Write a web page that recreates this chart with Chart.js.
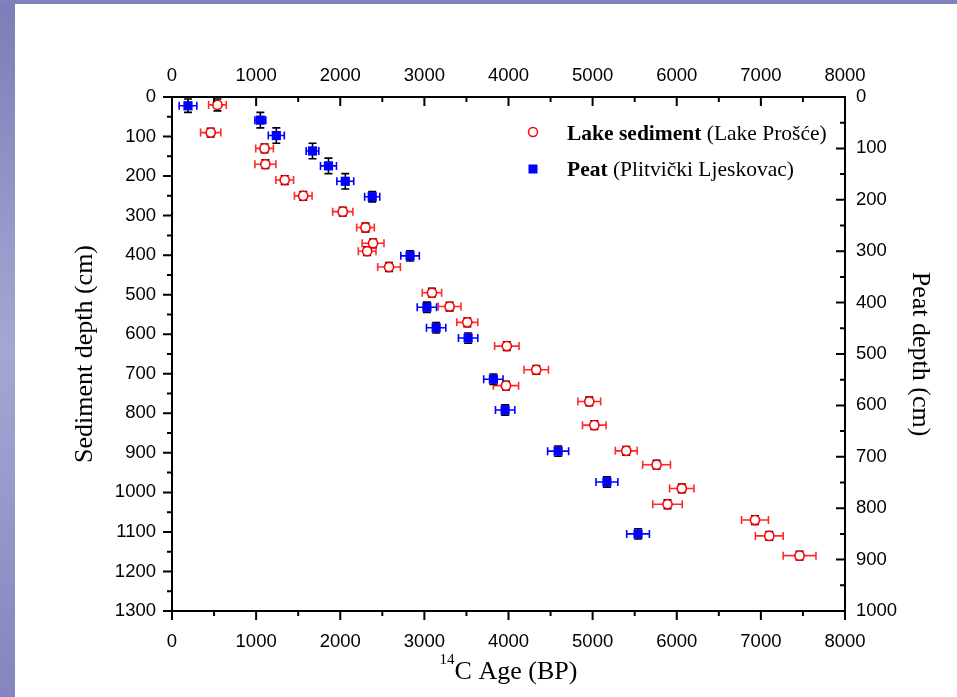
<!DOCTYPE html>
<html>
<head>
<meta charset="utf-8">
<script src="https://cdn.jsdelivr.net/npm/chart.js@4.4.1/dist/chart.umd.min.js"></script>
<style>
  html, body { margin: 0; padding: 0; }
  body {
    width: 957px; height: 697px; position: relative; overflow: hidden;
    background: linear-gradient(to bottom, #7d7db7 0%, #a6a6d4 50%, #8585bf 100%);
  }
  #topband { position: absolute; left: 0; top: 0; width: 957px; height: 4px; background: #8080bb; }
  #panel { position: absolute; left: 15px; top: 4px; right: 0; bottom: 0; background: #fff; }
  #chart { position: absolute; left: 0; top: 0; }
</style>
</head>
<body>
<div id="topband"></div>
<div id="panel"></div>
<canvas id="chart" width="957" height="697"></canvas>
<script>
// lake sediment (Lake Prošće) - left axis
const lakeAge = [540, 460, 1100, 1110, 1340, 1560, 2030, 2300, 2390, 2320, 2580, 3090, 3300, 3510, 3980, 4330, 3970, 4960, 5020, 5400, 5760, 6060, 5890, 6930, 7100, 7460];
const lakeDepth = [20, 90, 130, 170, 210, 250, 290, 330, 370, 390, 430, 495, 530, 570, 630, 690, 730, 770, 830, 895, 930, 990, 1030, 1070, 1110, 1160];
const lakeAgeErr = [105, 120, 105, 125, 105, 105, 120, 105, 130, 105, 135, 115, 135, 125, 145, 145, 150, 135, 140, 130, 165, 145, 175, 160, 165, 195];
const lakeDepthErr = [15, 11, 11, 11, 11, 11, 11, 11, 11, 11, 11, 11, 11, 11, 11, 11, 11, 11, 11, 11, 11, 11, 11, 11, 11, 11];

// peat (Plitvički Ljeskovac) - right axis
const peatAge = [190, 1050, 1240, 1670, 1860, 2060, 2380, 2830, 3030, 3140, 3520, 3820, 3960, 4590, 5170, 5540];
const peatDepth = [17, 45, 75, 105, 134, 164, 194, 309, 409, 449, 469, 549, 609, 689, 749, 850];
const peatAgeErr = [105, 65, 95, 75, 95, 100, 90, 110, 115, 115, 115, 115, 115, 125, 130, 135];
const peatDepthErr = [13, 15, 15, 15, 15, 15, 10, 10, 10, 10, 10, 10, 10, 10, 10, 10];

const ageTicks = { min: 0, max: 8000, step: 1000 };
const sedTicks = { min: 0, max: 1300, step: 100 };
const peatTicks = { min: 0, max: 1000, step: 100 };

const labelFont = { family: "'Liberation Sans', Arial, sans-serif", size: 18.5 };
const titleFamily = "'Liberation Serif', 'Times New Roman', serif";

function toPoints(xs, ys) {
  return xs.map((x, i) => ({ x: x, y: ys[i] }));
}

// error bars go under the markers
const errorBars = {
  id: 'errorBars',
  beforeDatasetsDraw(chart) {
    const ctx = chart.ctx;
    ctx.save();
    chart.data.datasets.forEach((ds) => {
      const xs = chart.scales[ds.xAxisID];
      const ys = chart.scales[ds.yAxisID];
      ds.data.forEach((p, i) => {
        const px = xs.getPixelForValue(p.x);
        const py = ys.getPixelForValue(p.y);
        const x1 = xs.getPixelForValue(p.x - ds.errX[i]);
        const x2 = xs.getPixelForValue(p.x + ds.errX[i]);
        const y1 = ys.getPixelForValue(p.y - ds.errY[i]);
        const y2 = ys.getPixelForValue(p.y + ds.errY[i]);
        ctx.lineWidth = 1.6;
        ctx.strokeStyle = ds.errColor;
        ctx.beginPath();
        ctx.moveTo(x1, py); ctx.lineTo(x2, py);
        ctx.moveTo(x1, py - 4); ctx.lineTo(x1, py + 4);
        ctx.moveTo(x2, py - 4); ctx.lineTo(x2, py + 4);
        ctx.stroke();
        ctx.strokeStyle = '#000';
        ctx.beginPath();
        ctx.moveTo(px, y1); ctx.lineTo(px, y2);
        ctx.moveTo(px - 4, y1); ctx.lineTo(px + 4, y1);
        ctx.moveTo(px - 4, y2); ctx.lineTo(px + 4, y2);
        ctx.stroke();
      });
    });
    ctx.restore();
  }
};

// Origin style ticks: bottom/left outward, top/right inward, with minor ticks
const tickMarks = {
  id: 'tickMarks',
  afterDraw(chart) {
    const { ctx, chartArea, scales } = chart;
    ctx.save();
    ctx.strokeStyle = '#000';
    ctx.lineWidth = 2;
    ctx.beginPath();
    for (let v = ageTicks.min; v <= ageTicks.max; v += ageTicks.step / 2) {
      const len = v % ageTicks.step === 0 ? 9 : 5;
      const x = scales.x.getPixelForValue(v);
      ctx.moveTo(x, chartArea.bottom); ctx.lineTo(x, chartArea.bottom + len);
      ctx.moveTo(x, chartArea.top); ctx.lineTo(x, chartArea.top + len);
    }
    for (let v = sedTicks.min; v <= sedTicks.max; v += sedTicks.step / 2) {
      const len = v % sedTicks.step === 0 ? 9 : 5;
      const y = scales.y.getPixelForValue(v);
      ctx.moveTo(chartArea.left, y); ctx.lineTo(chartArea.left - len, y);
    }
    for (let v = peatTicks.min; v <= peatTicks.max; v += peatTicks.step / 2) {
      const len = v % peatTicks.step === 0 ? 9 : 5;
      const y = scales.y2.getPixelForValue(v);
      ctx.moveTo(chartArea.right, y); ctx.lineTo(chartArea.right - len, y);
    }
    ctx.stroke();

    // x title with superscript 14
    const cx = (chartArea.left + chartArea.right) / 2;
    ctx.fillStyle = '#000';
    ctx.textBaseline = 'alphabetic';
    ctx.font = '26px ' + titleFamily;
    const main = 'C Age (BP)';
    const wMain = ctx.measureText(main).width;
    ctx.font = '15px ' + titleFamily;
    const wSup = ctx.measureText('14').width;
    const x0 = cx - (wMain + wSup) / 2;
    ctx.fillText('14', x0, 664);
    ctx.font = '26px ' + titleFamily;
    ctx.fillText(main, x0 + wSup, 679);

    // legend
    const lx = 533;
    ctx.lineWidth = 1.5;
    ctx.strokeStyle = '#ff0000';
    ctx.fillStyle = '#fff';
    ctx.beginPath();
    ctx.arc(lx, 132, 4.5, 0, Math.PI * 2);
    ctx.fill(); ctx.stroke();
    ctx.fillStyle = '#0000ff';
    ctx.fillRect(lx - 4.5, 164.5, 9, 9);
    const rows = [
      { bold: 'Lake sediment', rest: ' (Lake Prošće)', y: 139.5 },
      { bold: 'Peat', rest: ' (Plitvički Ljeskovac)', y: 175.5 }
    ];
    ctx.fillStyle = '#000';
    rows.forEach((r) => {
      ctx.font = 'bold 21.5px ' + titleFamily;
      ctx.fillText(r.bold, 567, r.y);
      const w = ctx.measureText(r.bold).width;
      ctx.font = '21.5px ' + titleFamily;
      ctx.fillText(r.rest, 567 + w, r.y);
    });
    ctx.restore();
  }
};

function axisBase(pos, t) {
  return {
    type: 'linear',
    position: pos,
    min: t.min,
    max: t.max,
    grid: { display: false, drawTicks: false },
    border: { display: true, color: '#000', width: 2 },
    ticks: {
      stepSize: t.step, color: '#000', font: labelFont, maxRotation: 0,
      callback: (v) => String(v)
    }
  };
}

const scales = {
  x: Object.assign(axisBase('bottom', ageTicks), {
    afterFit: (s) => { s.height = 86; }
  }),
  x2: Object.assign(axisBase('top', ageTicks), {
    afterFit: (s) => { s.height = 97; }
  }),
  y: Object.assign(axisBase('left', sedTicks), {
    reverse: true,
    title: { display: true, text: 'Sediment depth (cm)', color: '#000',
      font: { family: titleFamily, size: 26 }, padding: { top: 70, bottom: 0 } },
    afterFit: (s) => { s.width = 172; }
  }),
  y2: Object.assign(axisBase('right', peatTicks), {
    reverse: true,
    title: { display: true, text: 'Peat depth (cm)', color: '#000',
      font: { family: titleFamily, size: 26 }, padding: { top: 22, bottom: 0 } },
    afterFit: (s) => { s.width = 112; }
  })
};
scales.x.ticks.padding = 20;
scales.x2.ticks.padding = 10;
scales.y.ticks.padding = 16;
scales.y2.ticks.padding = 11;

new Chart(document.getElementById('chart'), {
  type: 'scatter',
  data: {
    datasets: [
      {
        label: 'Lake sediment (Lake Prošće)',
        data: toPoints(lakeAge, lakeDepth),
        xAxisID: 'x', yAxisID: 'y',
        errX: lakeAgeErr, errY: lakeDepthErr, errColor: '#ff2a2a',
        pointStyle: 'circle', pointRadius: 4.6,
        backgroundColor: '#fff', borderColor: '#ff0000', borderWidth: 1.6
      },
      {
        label: 'Peat (Plitvički Ljeskovac)',
        data: toPoints(peatAge, peatDepth),
        xAxisID: 'x', yAxisID: 'y2',
        errX: peatAgeErr, errY: peatDepthErr, errColor: '#0000ff',
        pointStyle: 'rect', pointRadius: 6.5,
        backgroundColor: '#0000ff', borderColor: '#0000ff', borderWidth: 0
      }
    ]
  },
  options: {
    responsive: false,
    animation: false,
    layout: { padding: 0 },
    plugins: { legend: { display: false }, tooltip: { enabled: false } },
    scales: scales
  },
  plugins: [errorBars, tickMarks]
});
</script>
</body>
</html>
